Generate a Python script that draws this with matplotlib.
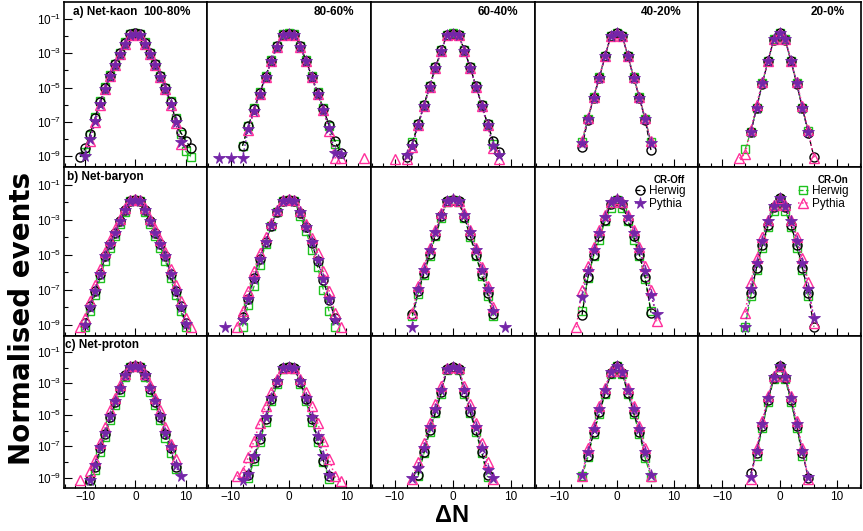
import numpy as np
import matplotlib
matplotlib.use("Agg")
import matplotlib.pyplot as plt
from matplotlib.ticker import FixedLocator, MultipleLocator, NullFormatter, LogFormatterSciNotation

plt.rcParams['font.family'] = ['Liberation Sans', 'DejaVu Sans']
plt.rcParams['mathtext.fontset'] = 'custom'
plt.rcParams['mathtext.rm'] = 'Liberation Sans'
plt.rcParams['mathtext.it'] = 'Liberation Sans:italic'
plt.rcParams['mathtext.bf'] = 'Liberation Sans:bold'

nan = np.nan

species = ["a) Net-kaon", "b) Net-baryon", "c) Net-proton"]
centralities = ["100-80%", "80-60%", "60-40%", "40-20%", "20-0%"]

# Delta N bins of each column (per row)
kaon_x = [range(-11, 12), range(-13, 14), range(-10, 11), range(-8, 9), range(-7, 8)]
baryon_x = [range(-11, 12), range(-11, 12), range(-9, 10), range(-8, 9), range(-7, 8)]
proton_x = [range(-11, 12), range(-10, 11), range(-8, 9), range(-7, 8), range(-6, 7)]

# log10 of normalised events
kaon_hw_off = [
    [-9.05, -8.55, -7.70, -6.75, -5.85, -5.00, -4.30, -3.65, -3.00, -2.40, -1.88, -1.83, -1.88, -2.40, -3.00, -3.65, -4.35, -5.05, -5.85, -6.85, -7.60, -8.10, -8.50],
    [nan, nan, nan, nan, nan, -8.40, -7.26, -6.24, -5.31, -4.36, -3.43, -2.57, -1.90, -1.85, -1.90, -2.57, -3.43, -4.36, -5.31, -6.24, -7.20, -8.10, -8.80, nan, nan, nan, nan],
    [nan, nan, -9.04, -8.27, -7.14, -6.04, -4.92, -3.82, -2.82, -1.92, -1.86, -1.92, -2.82, -3.82, -4.92, -6.04, -7.14, -8.10, -8.75, nan, nan],
    [nan, nan, -8.45, -6.90, -5.60, -4.45, -3.18, -2.00, -1.80, -2.00, -3.18, -4.45, -5.60, -6.90, -8.65, nan, nan],
    [nan, nan, -7.60, -6.20, -4.78, -3.45, -2.20, -1.80, -2.20, -3.45, -4.78, -6.20, -7.65, -9.05, nan],
]
kaon_py_off = [
    [nan, -9.00, -8.00, -6.95, -5.95, -5.10, -4.35, -3.70, -3.05, -2.45, -1.90, -1.85, -1.90, -2.45, -3.05, -3.70, -4.40, -5.10, -5.95, -7.00, -8.20, nan, nan],
    [nan, -9.10, nan, -9.10, nan, -9.10, -7.40, -6.35, -5.35, -4.40, -3.45, -2.60, -1.92, -1.86, -1.92, -2.60, -3.45, -4.40, -5.35, -6.30, -7.35, -8.80, -8.85, nan, nan, nan, nan],
    [nan, nan, -8.95, -8.40, -7.20, -6.08, -4.95, -3.85, -2.85, -1.94, -1.88, -1.94, -2.85, -3.85, -4.95, -6.08, -7.20, -8.40, -8.95, nan, nan],
    [nan, nan, -8.25, -6.85, -5.58, -4.42, -3.16, -2.00, -1.80, -2.00, -3.16, -4.42, -5.58, -6.85, -8.25, nan, nan],
    [nan, nan, -7.62, -6.20, -4.76, -3.44, -2.19, -1.80, -2.19, -3.44, -4.76, -6.20, -7.62, nan, nan],
]
kaon_hw_on = [
    [nan, -8.75, -7.75, -6.70, -5.80, -4.95, -4.25, -3.60, -2.95, -2.35, -1.86, -1.82, -1.86, -2.35, -2.95, -3.60, -4.30, -5.00, -5.80, -6.75, -7.70, -8.70, -9.05],
    [nan, nan, nan, nan, nan, -8.40, -7.26, -6.20, -5.28, -4.33, -3.40, -2.55, -1.88, -1.83, -1.88, -2.55, -3.40, -4.33, -5.28, -6.20, -7.26, -8.30, nan, nan, nan, nan, nan],
    [nan, nan, nan, -8.20, -7.10, -6.00, -4.90, -3.80, -2.80, -1.90, -1.84, -1.90, -2.80, -3.80, -4.90, -6.00, -7.10, -8.27, nan, nan, nan],
    [nan, nan, -8.17, -6.82, -5.56, -4.40, -3.14, -1.99, -1.79, -1.99, -3.14, -4.40, -5.56, -6.82, -8.17, nan, nan],
    [nan, -8.61, -7.59, -6.18, -4.75, -3.43, -2.18, -1.79, -2.18, -3.43, -4.75, -6.18, -7.55, nan, nan],
]
kaon_py_on = [
    [nan, nan, -8.10, -7.00, -6.00, -5.10, -4.35, -3.70, -3.05, -2.45, -1.90, -1.85, -1.90, -2.45, -3.05, -3.70, -4.40, -5.10, -6.00, -7.05, -8.30, nan, nan],
    [nan, nan, nan, nan, nan, nan, -7.50, -6.35, -5.35, -4.40, -3.45, -2.60, -1.92, -1.86, -1.92, -2.60, -3.45, -4.40, -5.35, -6.30, -7.55, -9.10, -9.10, nan, nan, nan, -9.10],
    [-9.19, nan, -9.19, -8.45, -7.20, -6.08, -4.95, -3.85, -2.85, -1.94, -1.88, -1.94, -2.85, -3.85, -4.95, -6.08, -7.20, -8.50, -9.19, nan, nan],
    [nan, nan, -8.10, -6.80, -5.55, -4.40, -3.14, -1.99, -1.79, -1.99, -3.14, -4.40, -5.55, -6.80, -8.10, nan, nan],
    [-9.13, -8.88, -7.50, -6.00, -4.70, -3.43, -2.18, -1.79, -2.18, -3.43, -4.70, -6.05, -7.50, -9.13, nan],
]

baryon_hw_off = [
    [nan, -8.90, -7.95, -7.05, -6.10, -5.10, -4.40, -3.75, -3.10, -2.45, -1.92, -1.86, -1.92, -2.45, -3.10, -3.75, -4.40, -5.10, -6.10, -7.05, -7.95, -8.90, nan],
    [nan, nan, nan, -8.55, -7.50, -6.35, -5.25, -4.25, -3.35, -2.55, -1.92, -1.86, -1.92, -2.60, -3.45, -4.35, -5.35, -6.45, -7.60, -8.60, nan, nan, nan],
    [nan, nan, -8.40, -7.10, -6.05, -4.95, -3.85, -2.82, -1.95, -1.86, -1.95, -2.85, -3.90, -5.00, -6.10, -7.20, -8.40, nan, nan],
    [nan, nan, -8.43, -6.30, -5.00, -3.95, -3.00, -2.10, -1.86, -2.10, -3.00, -3.95, -5.00, -6.30, -8.30, nan, nan],
    [nan, nan, -7.20, -5.75, -4.45, -3.30, -2.30, -1.78, -2.30, -3.30, -4.45, -5.75, -7.20, -9.10, nan],
]
baryon_py_off = [
    [nan, -9.00, -8.00, -7.05, -6.10, -5.10, -4.40, -3.75, -3.10, -2.45, -1.92, -1.86, -1.92, -2.45, -3.10, -3.75, -4.40, -5.10, -6.10, -7.05, -8.00, -8.95, nan],
    [-9.15, nan, nan, -8.70, -7.55, -6.40, -5.25, -4.25, -3.30, -2.52, -1.92, -1.86, -1.92, -2.55, -3.40, -4.30, -5.30, -6.40, -7.55, -8.70, nan, nan, nan],
    [nan, nan, -9.15, -6.95, -5.85, -4.75, -3.70, -2.72, -1.93, -1.85, -1.93, -2.72, -3.70, -4.75, -5.85, -6.95, -8.20, nan, -9.15],
    [nan, nan, -7.40, -5.95, -4.75, -3.75, -2.85, -2.00, -1.85, -2.00, -2.85, -3.75, -4.75, -5.95, -7.30, -8.40, nan],
    [nan, -9.10, -6.95, -5.45, -4.20, -3.10, -2.20, -1.77, -2.20, -3.10, -4.20, -5.45, -6.95, -8.60, nan],
]
baryon_hw_on = [
    [nan, -9.10, -8.20, -7.30, -6.35, -5.35, -4.60, -3.95, -3.25, -2.55, -1.95, -1.88, -1.95, -2.55, -3.25, -3.95, -4.60, -5.35, -6.35, -7.30, -8.20, -9.10, nan],
    [nan, nan, nan, -9.10, -7.85, -6.80, -5.57, -4.40, -3.35, -2.55, -1.93, -1.87, -1.93, -2.80, -3.67, -4.71, -5.70, -7.00, -8.24, -9.15, nan, nan, nan],
    [nan, nan, -8.50, -7.25, -6.15, -5.05, -3.95, -2.90, -1.97, -1.87, -1.97, -2.92, -4.00, -5.10, -6.20, -7.35, -8.50, nan, nan],
    [nan, nan, -8.20, -6.35, -5.10, -4.14, -3.10, -2.33, -1.88, -2.33, -3.10, -4.14, -5.10, -6.40, -8.20, nan, nan],
    [nan, -9.10, -7.35, -5.85, -4.60, -3.40, -2.50, -1.80, -2.50, -3.40, -4.60, -5.85, -7.35, nan, nan],
]
baryon_py_on = [
    [-9.15, -8.60, -7.65, -6.75, -5.80, -4.85, -4.15, -3.55, -2.95, -2.35, -1.90, -1.85, -1.90, -2.35, -2.95, -3.55, -4.15, -4.85, -5.80, -6.75, -7.65, -8.60, -9.15],
    [nan, nan, -9.10, -8.24, -7.06, -5.95, -4.90, -4.00, -3.20, -2.48, -1.90, -1.85, -1.90, -2.50, -3.25, -4.05, -4.90, -5.93, -7.06, -8.30, -9.10, nan, nan],
    [nan, nan, -8.30, -6.80, -5.70, -4.60, -3.60, -2.65, -1.92, -1.85, -1.92, -2.65, -3.60, -4.60, -5.70, -6.80, -8.00, nan, nan],
    [nan, -9.15, -7.00, -5.65, -4.55, -3.60, -2.75, -1.98, -1.84, -1.98, -2.75, -3.60, -4.55, -5.65, -7.00, -8.80, nan],
    [nan, -8.30, -6.55, -5.20, -4.00, -3.00, -2.15, -1.77, -2.15, -3.00, -4.00, -5.20, -6.55, -8.90, nan],
]

proton_hw_off = [
    [nan, nan, -9.13, -8.29, -7.10, -6.20, -5.15, -4.20, -3.35, -2.50, -1.95, -1.88, -1.95, -2.50, -3.35, -4.20, -5.15, -6.20, -7.10, -8.30, nan, nan, nan],
    [nan, nan, nan, -8.80, -7.75, -6.50, -5.25, -3.98, -2.93, -2.05, -1.99, -2.05, -2.93, -3.98, -5.25, -6.50, -7.90, -8.90, nan, nan, nan],
    [nan, nan, -8.80, -7.35, -5.98, -4.80, -3.55, -2.10, -1.99, -2.10, -3.55, -4.80, -5.98, -7.35, -8.80, nan, nan],
    [nan, nan, -7.60, -6.10, -4.85, -3.60, -2.35, -1.92, -2.35, -3.60, -4.85, -6.10, -7.60, nan, nan],
    [nan, -8.70, -7.40, -5.70, -4.05, -2.65, -1.93, -2.65, -4.05, -5.70, -7.40, -9.00, nan],
]
proton_py_off = [
    [nan, nan, -9.10, -8.20, -7.05, -6.15, -5.10, -4.15, -3.30, -2.48, -1.95, -1.88, -1.95, -2.48, -3.30, -4.15, -5.10, -6.15, -7.05, -8.20, -8.90, nan, nan],
    [nan, nan, -9.10, -8.75, -7.60, -6.35, -5.15, -3.90, -2.88, -2.03, -1.98, -2.03, -2.88, -3.90, -5.15, -6.35, -7.60, -8.80, nan, nan, nan],
    [nan, -9.00, -8.40, -7.10, -5.80, -4.60, -3.40, -2.08, -1.98, -2.08, -3.40, -4.60, -5.80, -7.10, -8.50, -9.00, nan],
    [nan, -8.80, -7.35, -5.90, -4.65, -3.45, -2.28, -1.92, -2.28, -3.45, -4.65, -5.90, -7.35, -8.80, nan],
    [nan, -8.95, -7.30, -5.60, -3.95, -2.60, -1.92, -2.60, -3.95, -5.60, -7.30, -8.95, nan],
]
proton_hw_on = [
    [nan, nan, -9.13, -8.50, -7.35, -6.40, -5.35, -4.40, -3.55, -2.62, -1.98, -1.89, -1.98, -2.62, -3.55, -4.40, -5.35, -6.45, -7.40, -8.45, nan, nan, nan],
    [nan, nan, nan, -9.00, -7.95, -6.70, -5.45, -4.15, -3.05, -2.10, -1.99, -2.10, -3.05, -4.15, -5.45, -6.70, -8.00, -9.05, nan, nan, nan],
    [nan, nan, -8.90, -7.45, -6.10, -4.90, -3.65, -2.15, -2.00, -2.15, -3.65, -4.90, -6.10, -7.45, -8.95, nan, nan],
    [nan, -8.90, -7.70, -6.20, -4.95, -3.70, -2.40, -1.93, -2.40, -3.70, -4.95, -6.20, -7.75, -8.95, nan],
    [nan, nan, -7.60, -5.85, -4.20, -2.75, -1.95, -2.75, -4.20, -5.85, -7.60, nan, nan],
]
proton_py_on = [
    [-9.16, nan, -8.55, -7.85, -6.80, -5.77, -4.72, -3.90, -3.10, -2.40, -1.93, -1.87, -1.93, -2.40, -3.10, -3.90, -4.72, -5.77, -6.82, -7.80, nan, nan, nan],
    [nan, -8.90, -8.60, -7.70, -6.65, -5.50, -4.45, -3.55, -2.70, -2.00, -1.97, -2.00, -2.70, -3.55, -4.45, -5.50, -6.65, -7.80, -8.90, -9.20, nan],
    [nan, -9.05, -8.00, -6.80, -5.50, -4.30, -3.20, -2.05, -1.97, -2.05, -3.20, -4.30, -5.50, -6.80, -8.00, -9.05, nan],
    [nan, -8.90, -7.10, -5.70, -4.45, -3.30, -2.22, -1.91, -2.22, -3.30, -4.45, -5.70, -7.10, -8.90, nan],
    [nan, -9.05, -7.10, -5.40, -3.80, -2.55, -1.91, -2.55, -3.80, -5.40, -7.10, -9.05, nan],
]

rows = [
    (kaon_x, kaon_hw_off, kaon_py_off, kaon_hw_on, kaon_py_on),
    (baryon_x, baryon_hw_off, baryon_py_off, baryon_hw_on, baryon_py_on),
    (proton_x, proton_hw_off, proton_py_off, proton_hw_on, proton_py_on),
]

GREEN = '#1fc21f'
PINK = '#ff2e9a'
PURPLE = '#7426a8'

W, H = 863, 531
col_px = [64, 206.7, 370.7, 535, 698, 861]
row_px = [2, 167, 336, 488]

fig = plt.figure(figsize=(W / 100, H / 100), dpi=100)

species_x = [0.063, 0.02, 0.01]

for r in range(3):
    xs_list, hw_off, py_off, hw_on, py_on = rows[r]
    for c in range(5):
        x0, x1 = col_px[c], col_px[c + 1]
        y0, y1 = row_px[r], row_px[r + 1]
        ax = fig.add_axes([x0 / W, 1 - y1 / H, (x1 - x0) / W, (y1 - y0) / H])
        xs = np.array(list(xs_list[c]))

        h_on, = ax.plot(xs, 10 ** np.array(hw_on[c]), ls=(0, (4, 2)), lw=0.9, color=GREEN,
                        marker='s', ms=6, mfc='none', mec=GREEN, mew=1.0, label='Herwig')
        h_off, = ax.plot(xs, 10 ** np.array(hw_off[c]), ls=(0, (4, 2)), lw=0.9, color='black',
                         marker='o', ms=6.5, mfc='none', mec='black', mew=1.0, label='Herwig')
        p_on, = ax.plot(xs, 10 ** np.array(py_on[c]), ls=':', lw=1.1, color=PINK,
                        marker='^', ms=7, mfc='none', mec=PINK, mew=1.0, label='Pythia')
        p_off, = ax.plot(xs, 10 ** np.array(py_off[c]), ls=':', lw=1.1, color=PURPLE,
                         marker='*', ms=8.5, mfc=PURPLE, mec=PURPLE, mew=0.6, label='Pythia')

        ax.set_yscale('log')
        ax.set_xlim(-14.2, 14.2)
        ax.set_ylim(2.3e-10, 1.0)
        ax.xaxis.set_major_locator(FixedLocator([-10, 0, 10]))
        ax.xaxis.set_minor_locator(MultipleLocator(2))
        ax.yaxis.set_major_locator(FixedLocator([1e-1, 1e-3, 1e-5, 1e-7, 1e-9]))
        ax.yaxis.set_minor_locator(FixedLocator([1e-2, 1e-4, 1e-6, 1e-8]))
        ax.yaxis.set_major_formatter(LogFormatterSciNotation())
        ax.yaxis.set_minor_formatter(NullFormatter())
        ax.tick_params(which='both', direction='in', top=False, right=False, labelsize=8.5, pad=2)
        ax.tick_params(which='major', length=6, width=0.8)
        ax.tick_params(which='minor', length=3, width=0.8)
        if c > 0:
            ax.tick_params(axis='y', which='both', left=False, labelleft=False)
        if r < 2:
            ax.tick_params(axis='x', labelbottom=False)
        for s in ax.spines.values():
            s.set_linewidth(1.2)

        if c == 0:
            ax.text(species_x[r], 0.94, species[r], transform=ax.transAxes, fontsize=8.5,
                    fontweight='bold', ha='left', va='center')
        if r == 0:
            if c == 0:
                ax.text(0.555, 0.94, centralities[c], transform=ax.transAxes, fontsize=8.5,
                        fontweight='bold', ha='left', va='center')
            else:
                ax.text(0.9, 0.94, centralities[c], transform=ax.transAxes, fontsize=8.5,
                        fontweight='bold', ha='right', va='center')
        if r == 1 and c in (3, 4):
            if c == 3:
                handles, title = [h_off, p_off], 'CR-Off'
            else:
                handles, title = [h_on, p_on], 'CR-On'
            leg = ax.legend(handles=handles, title=title, loc='upper right',
                            bbox_to_anchor=(0.98, 1.01), frameon=False, fontsize=8.5,
                            title_fontproperties={'weight': 'bold', 'size': 7},
                            handlelength=0.9, handletextpad=0.3, borderpad=0.3, labelspacing=0.05)
            leg._legend_box.align = 'right'

fig.text(22 / W, 1 - 318 / H, 'Normalised events', rotation=90, fontsize=20,
         family='DejaVu Sans', fontweight='bold', ha='center', va='center')
fig.text(452 / W, 1 - 515 / H, 'ΔN', fontsize=17, fontweight='bold', ha='center', va='center')

fig.savefig('out.png', dpi=100)
